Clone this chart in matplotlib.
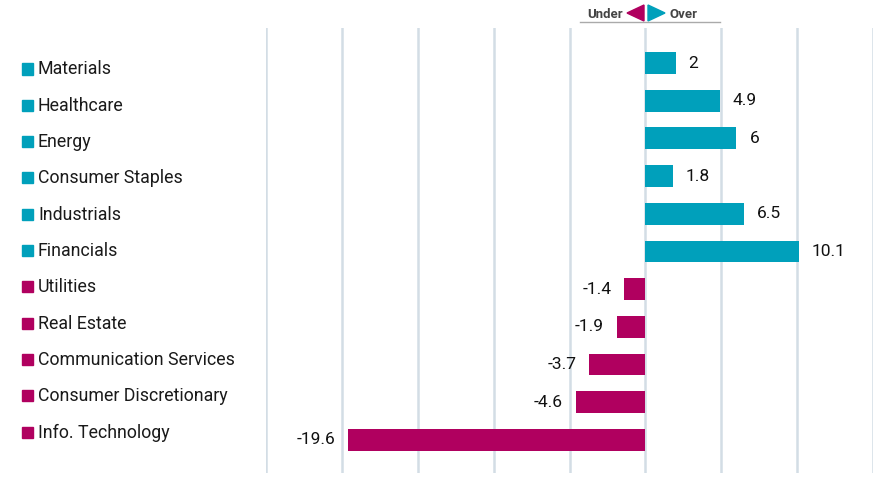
import matplotlib.pyplot as plt
from matplotlib.patches import Rectangle, Polygon
from matplotlib import font_manager

# ---------------------------------------------------------------------
# data
# ---------------------------------------------------------------------
sectors = ["Materials", "Healthcare", "Energy", "Consumer Staples", "Industrials",
           "Financials", "Utilities", "Real Estate", "Communication Services",
           "Consumer Discretionary", "Info. Technology"]
values = [2, 4.9, 6, 1.8, 6.5, 10.1, -1.4, -1.9, -3.7, -4.6, -19.6]
grid_ticks = [-25, -20, -15, -10, -5, 0, 5, 10, 15]

OVER = "#00a0bb"
UNDER = "#b0005f"
GRID = "#d3dde5"

names = {f.name for f in font_manager.fontManager.ttflist}
label_font = "Roboto" if "Roboto" in names else "DejaVu Sans"
num_font = "Liberation Sans Narrow" if "Liberation Sans Narrow" in names else label_font

fig = plt.figure(figsize=(8.95, 4.99), dpi=100)
W, H = 895, 499
ax = fig.add_axes([266 / W, 1 - 473 / H, (873 - 266) / W, (473 - 28) / H])

colors = [OVER if v >= 0 else UNDER for v in values]
ypos = list(range(len(values)))
ax.barh(ypos, values, height=0.58, color=colors, zorder=3)

ax.set_xlim(-25, 15)
ax.set_ylim(10.88, -0.93)
for t in grid_ticks:
    ax.axvline(t, color=GRID, lw=1.8, zorder=1)
for s in ax.spines.values():
    s.set_visible(False)
ax.set_xticks([])
ax.set_yticks([])

# value labels, ~13 px from bar end
px = 40 / (873 - 266)
for y, v in zip(ypos, values):
    if v >= 0:
        ax.text(v + 13 * px, y, f"{v:g}", ha="left", va="center",
                fontsize=12.5, family=num_font, color="#111111")
    else:
        ax.text(v - 13 * px, y, f"{v:g}", ha="right", va="center",
                fontsize=12.5, family=num_font, color="#111111")

# left-hand category labels with coloured squares
y0, y1 = 69, 432
step = (y1 - y0) / (len(sectors) - 1)
for i, (name, c) in enumerate(zip(sectors, colors)):
    yc = y0 + i * step
    fig.patches.append(Rectangle((22 / W, 1 - (yc + 5.5) / H), 11 / W, 11 / H,
                                 transform=fig.transFigure, color=c))
    fig.text(38 / W, 1 - (yc + 0.5) / H, name, ha="left", va="center",
             fontsize=12.8, family=label_font, color="#1a1a1a")

# Under / Over header
fig.add_artist(plt.Line2D([580 / W, 720 / W], [1 - 22 / H, 1 - 22 / H],
                          transform=fig.transFigure, color="#aaaaaa", lw=1))
fig.patches.append(Polygon([(644 / W, 1 - 5 / H), (644 / W, 1 - 21 / H), (627 / W, 1 - 13 / H)],
                           closed=True, transform=fig.transFigure, color=UNDER))
fig.patches.append(Polygon([(648 / W, 1 - 5 / H), (648 / W, 1 - 21 / H), (665 / W, 1 - 13 / H)],
                           closed=True, transform=fig.transFigure, color=OVER))
fig.text(623 / W, 1 - 14 / H, "Under", ha="right", va="center", fontsize=9.5,
         family=num_font, fontweight="bold", color="#444444")
fig.text(669 / W, 1 - 14 / H, "Over", ha="left", va="center", fontsize=9.5,
         family=num_font, fontweight="bold", color="#444444")

fig.savefig("out.png", dpi=100)
